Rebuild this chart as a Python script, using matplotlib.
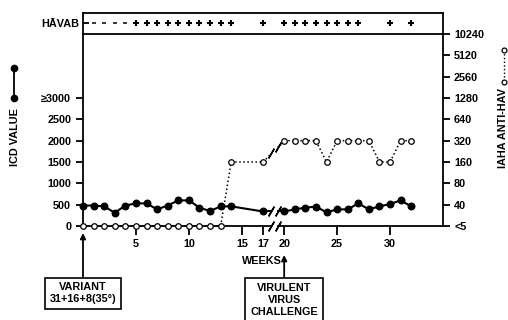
import numpy as np
import matplotlib
matplotlib.use('Agg')
import matplotlib.pyplot as plt
from matplotlib.lines import Line2D

plt.rcParams['font.family'] = ['Liberation Sans', 'DejaVu Sans']
plt.rcParams['font.weight'] = 'bold'

# ICD values (filled circles), weeks 15/16 and 18/19 not sampled
icd_weeks = [0, 1, 2, 3, 4, 5, 6, 7, 8, 9, 10, 11, 12, 13, 14, 17,
             20, 21, 22, 23, 24, 25, 26, 27, 28, 29, 30, 31, 32]
icd_values = [480, 480, 460, 310, 480, 530, 530, 390, 480, 600, 600, 430, 350, 460, 460, 340,
              340, 390, 430, 455, 320, 390, 390, 530, 390, 460, 515, 600, 460]

# IAHA anti-HAV titres (open circles), 5 means "<5"
iaha_weeks = icd_weeks
iaha_titres = [5, 5, 5, 5, 5, 5, 5, 5, 5, 5, 5, 5, 5, 5, 160, 160,
               320, 320, 320, 320, 160, 320, 320, 320, 320, 160, 160, 320, 320]

# HAVAB result row
havab_neg_weeks = [1, 2, 3, 4]
havab_pos_weeks = [5, 6, 7, 8, 9, 10, 11, 12, 13, 14, 17,
                   20, 21, 22, 23, 24, 25, 26, 27, 30, 32]

icd_ticks = [0, 500, 1000, 1500, 2000, 2500, 3000]
icd_ticklabels = ['0', '500', '1000', '1500', '2000', '2500', '≥3000']
iaha_ticklabels = ['<5', '40', '80', '160', '320', '640', '1280', '2560', '5120', '10240']
week_ticks = [5, 10, 15, 17, 20, 25, 30]

BREAK_AFTER = 17   # axis jumps from week 17 to week 20
GAP_L, GAP_R = 17.8, 18.4


def pos(w):
    w = np.asarray(w, dtype=float)
    return np.where(w > BREAK_AFTER, w - 1, w)


def titre_idx(t):
    t = np.asarray(t, dtype=float)
    return np.where(t < 40, 0, np.log2(np.maximum(t, 40) / 20))


W, H = 508, 320
fig = plt.figure(figsize=(W / 100, H / 100), dpi=100)
L, R = 83 / W, 443 / W
ax = fig.add_axes([L, 1 - 226 / H, R - L, 192 / H])
ax2 = ax.twinx()
top = fig.add_axes([L, 1 - 34 / H, R - L, 21.5 / H])

lw_sp = 1.3
fs = 7.8

# --- main axes
ax.set_xlim(0, 34)
ax.set_ylim(0, 4500)
ax2.set_ylim(0, 9)
for a in (ax, ax2):
    a.spines['top'].set_visible(False)
    a.spines['bottom'].set_visible(False)
    for s in a.spines.values():
        s.set_linewidth(lw_sp)
ax2.spines['left'].set_visible(False)
ax.spines['right'].set_visible(False)

ax.set_yticks(icd_ticks)
ax.set_yticklabels(icd_ticklabels, fontsize=fs, fontweight='bold')
ax2.set_yticks(range(len(iaha_ticklabels)))
ax2.set_yticklabels(iaha_ticklabels, fontsize=fs, fontweight='bold')
ax.set_xticks(pos(week_ticks))
ax.set_xticklabels([str(w) for w in week_ticks], fontsize=fs, fontweight='bold')
ax.tick_params(axis='y', direction='out', length=5, width=lw_sp, pad=3.5)
ax2.tick_params(axis='y', direction='out', length=5, width=lw_sp, pad=3)
ax.tick_params(axis='x', direction='out', length=6.5, width=lw_sp, pad=3)

# broken x axis line
bt = ax.get_xaxis_transform()
ax.plot([0, GAP_L], [0, 0], color='black', lw=lw_sp, transform=bt, clip_on=False, zorder=5)
ax.plot([GAP_R, 34], [0, 0], color='black', lw=lw_sp, transform=bt, clip_on=False, zorder=5)
ax.plot([GAP_L, GAP_R], [0, 0], ls='none', marker=(2, 2, -30), ms=8, mew=1.1,
        color='black', transform=bt, clip_on=False, zorder=5)

# ICD series
xi = pos(icd_weeks)
yi = np.array(icd_values, dtype=float)
seg1 = np.array(icd_weeks) <= BREAK_AFTER
for m in (seg1, ~seg1):
    ax.plot(xi[m], yi[m], '-', color='black', lw=1.5, marker='o', ms=4.7,
            mfc='black', mec='black', clip_on=False, zorder=4)
# stubs to the break
xa, ya = xi[seg1][-1], yi[seg1][-1]
xb, yb = xi[~seg1][0], yi[~seg1][0]
fl = lambda x: ya + (yb - ya) * (x - xa) / (xb - xa)
ax.plot([xa, GAP_L], [ya, fl(GAP_L)], '-', color='black', lw=1.5)
ax.plot([GAP_R, xb], [fl(GAP_R), yb], '-', color='black', lw=1.5)
ax.plot([GAP_L, GAP_R], [fl(GAP_L), fl(GAP_R)], ls='none', marker=(2, 2, -30),
        ms=8, mew=1.1, color='black')

# IAHA series
xt = pos(iaha_weeks)
yt = titre_idx(iaha_titres)
for m in (seg1, ~seg1):
    ax2.plot(xt[m], yt[m], ':', color='black', lw=1.1, marker='o', ms=4,
             mfc='white', mec='black', mew=0.9, clip_on=False, zorder=6)
ya2, yb2 = yt[seg1][-1], yt[~seg1][0]
fl2 = lambda x: ya2 + (yb2 - ya2) * (x - xa) / (xb - xa)
ax2.plot([xa, GAP_L], [ya2, fl2(GAP_L)], ':', color='black', lw=1.1)
ax2.plot([GAP_R, xb], [fl2(GAP_R), yb2], ':', color='black', lw=1.1)
ax2.plot([GAP_L, GAP_R], [fl2(GAP_L), fl2(GAP_R)], ls='none', marker=(2, 2, -30),
         ms=8, mew=1.1, color='black')

# --- HAVAB box
top.set_xlim(0, 34)
top.set_ylim(0, 1)
top.set_xticks([])
top.set_yticks([0.5])
top.set_yticklabels(['HĀVAB'], fontsize=fs, fontweight='bold')
top.tick_params(axis='y', direction='in', length=4, width=lw_sp, pad=3)
for s in top.spines.values():
    s.set_linewidth(lw_sp)
top.plot(pos(havab_neg_weeks), [0.5] * len(havab_neg_weeks), ls='none',
         marker='_', ms=3.5, mew=1.1, color='black')
top.plot(pos(havab_pos_weeks), [0.5] * len(havab_pos_weeks), ls='none',
         marker='+', ms=5, mew=1.5, color='black')

# --- axis titles and legend keys
fig.text(15 / W, 1 - 137 / H, 'ICD VALUE', rotation=90, ha='center', va='center',
         fontsize=fs, fontweight='bold')
fig.add_artist(Line2D([14 / W, 14 / W], [1 - 68 / H, 1 - 98 / H], transform=fig.transFigure,
                      color='black', lw=1.3, marker='o', ms=4.5, mfc='black'))
fig.text(503 / W, 1 - 128 / H, 'IAHA ANTI-HAV', rotation=90, ha='center', va='center',
         fontsize=fs, fontweight='bold')
fig.add_artist(Line2D([504 / W, 504 / W], [1 - 50 / H, 1 - 82 / H], transform=fig.transFigure,
                      color='black', lw=1.0, ls=':', marker='o', ms=3.5, mfc='white', mew=0.9))

fig.text(262 / W, 1 - 261 / H, 'WEEKS', ha='center', va='center', fontsize=fs, fontweight='bold')

# --- event annotations
px = 1 / 192
box = dict(boxstyle='square,pad=0.45', fc='white', ec='black', lw=1.2)
ax.annotate('VARIANT\n31+16+8(35°)', xy=(0, -7 * px), xycoords=('data', 'axes fraction'),
            xytext=(0, -(293.5 - 226) * px), textcoords=('data', 'axes fraction'),
            ha='center', va='center', fontsize=fs, fontweight='bold', linespacing=1.25,
            bbox=box, annotation_clip=False,
            arrowprops=dict(arrowstyle='-|>', color='black', lw=1.3, mutation_scale=8,
                            shrinkA=0, shrinkB=0))
ax.annotate('VIRULENT\nVIRUS\nCHALLENGE', xy=(pos(20), -29 * px), xycoords=('data', 'axes fraction'),
            xytext=(pos(20), -(300 - 226) * px), textcoords=('data', 'axes fraction'),
            ha='center', va='center', fontsize=fs, fontweight='bold', linespacing=1.25,
            bbox=box, annotation_clip=False,
            arrowprops=dict(arrowstyle='-|>', color='black', lw=1.3, mutation_scale=8,
                            shrinkA=0, shrinkB=0))

fig.savefig('out.png', dpi=100)
